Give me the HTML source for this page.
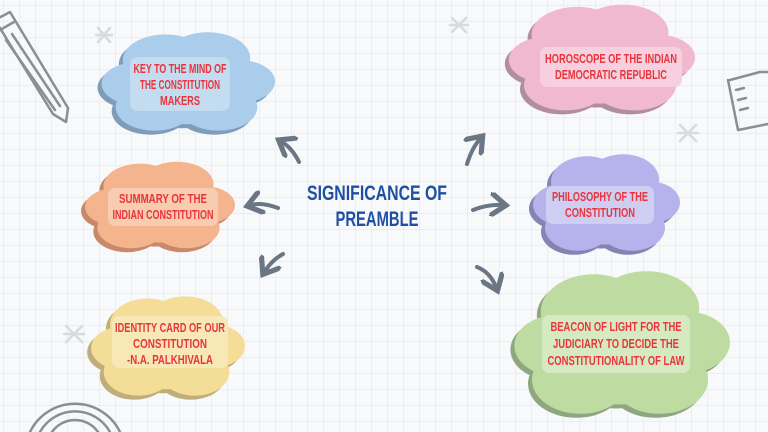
<!DOCTYPE html>
<html><head><meta charset="utf-8"><style>
html,body{margin:0;padding:0}
body{width:768px;height:432px;overflow:hidden;background:#f8f9fb}
svg{display:block}
text{font-family:"Liberation Sans",sans-serif;font-weight:bold;text-anchor:middle}
</style></head><body>
<svg width="768" height="432" viewBox="0 0 768 432" xmlns="http://www.w3.org/2000/svg">
<defs>
<pattern id="grid" width="16" height="16" patternUnits="userSpaceOnUse" x="4" y="6">
<path d="M16 0V16M0 16H16" fill="none" stroke="#e1e4ea" stroke-width="1"/>
</pattern>
<g id="cl">
<ellipse cx="22" cy="52" rx="20" ry="20"/><ellipse cx="38" cy="30" rx="24" ry="24"/>
<ellipse cx="62" cy="28" rx="24" ry="24"/><ellipse cx="80" cy="50" rx="20" ry="20"/>
<ellipse cx="50" cy="60" rx="30" ry="30"/><ellipse cx="32" cy="74" rx="22" ry="22"/>
<ellipse cx="68" cy="74" rx="22" ry="22"/>
</g>
<marker id="ah" markerWidth="6" markerHeight="6" refX="3" refY="3" orient="auto" markerUnits="strokeWidth">
<path d="M0,0 L4,3 L0,6" fill="none" stroke="#6b7685" stroke-width="1.3" stroke-linecap="round"/></marker>
</defs>
<rect width="768" height="432" fill="url(#grid)"/>

<g fill="none" stroke="#8a8f96" stroke-width="2.5" stroke-linecap="round" stroke-linejoin="round">
<path d="M-5 20 L10 12 L68 108 L66 122 L53 114 Z"/>
<path d="M0 30 L14 22 M6 40 L55 110 M12 34 L60 106"/>
<path d="M730 80 L760 72 L768 72 M728 80 L738 130 L768 124 M736 90 L744 88 M738 100 L746 98 M740 110 L748 108"/>
<path d="M30 432 A50 50 0 0 1 120 432 M40 432 A40 40 0 0 1 110 432 M52 432 A28 28 0 0 1 98 432"/>
</g>
<g stroke="#d7dadf" stroke-width="2.5" stroke-linecap="round">
<path d="M98 28 L110 42 M110 28 L98 42 M96 35 L112 35"/>
<path d="M452 18 L466 32 M466 18 L452 32 M450 25 L468 25"/>
<path d="M680 125 L696 141 M696 125 L680 141 M678 133 L698 133"/>
<path d="M66 326 L82 342 M82 326 L66 342 M64 334 L84 334"/>
</g>

<g transform="translate(94,32) scale(1.77,1.07)" fill="#7f9cb8"><use href="#cl"/></g>
<g transform="translate(98,28) scale(1.77,1.07)" fill="#a9cdea"><use href="#cl"/></g>
<g transform="translate(78,162) scale(1.53,0.94)" fill="#c8886a"><use href="#cl"/></g>
<g transform="translate(82,158) scale(1.53,0.94)" fill="#f4b48e"><use href="#cl"/></g>
<g transform="translate(84,296) scale(1.57,1.08)" fill="#bfae79"><use href="#cl"/></g>
<g transform="translate(88,292) scale(1.57,1.08)" fill="#f4dd97"><use href="#cl"/></g>
<g transform="translate(501,4) scale(1.9,1.15)" fill="#b08ea0"><use href="#cl"/></g>
<g transform="translate(505,0) scale(1.9,1.15)" fill="#f1b9cd"><use href="#cl"/></g>
<g transform="translate(526,154) scale(1.5,1.05)" fill="#8583b4"><use href="#cl"/></g>
<g transform="translate(530,150) scale(1.5,1.05)" fill="#b5b2ec"><use href="#cl"/></g>
<g transform="translate(506,269) scale(2.2,1.55)" fill="#8fa781"><use href="#cl"/></g>
<g transform="translate(510,265) scale(2.2,1.55)" fill="#bedca1"><use href="#cl"/></g>

<rect x="130" y="57" width="100" height="54" rx="8" fill="#c3dcef"/>
<rect x="108" y="188" width="110" height="38" rx="7" fill="#f8ccb0"/>
<rect x="112" y="316" width="116" height="52" rx="7" fill="#f8e8b8"/>
<rect x="540" y="47" width="142" height="40" rx="7" fill="#f6d0de"/>
<rect x="546" y="186" width="108" height="38" rx="7" fill="#cecdf2"/>
<rect x="542" y="315" width="148" height="58" rx="7" fill="#d6eac2"/>

<g fill="#e8353d" font-size="12.5" lengthAdjust="spacingAndGlyphs">
<text x="180" y="73" textLength="93" lengthAdjust="spacingAndGlyphs">KEY TO THE MIND OF</text>
<text x="180" y="89" textLength="80" lengthAdjust="spacingAndGlyphs">THE CONSTITUTION</text>
<text x="180" y="105" textLength="40" lengthAdjust="spacingAndGlyphs">MAKERS</text>
<text x="163" y="203" textLength="88" lengthAdjust="spacingAndGlyphs">SUMMARY OF THE</text>
<text x="163" y="219" textLength="101" lengthAdjust="spacingAndGlyphs">INDIAN CONSTITUTION</text>
<text x="170" y="332" textLength="110" lengthAdjust="spacingAndGlyphs">IDENTITY CARD OF OUR</text>
<text x="170" y="348" textLength="74" lengthAdjust="spacingAndGlyphs">CONSTITUTION</text>
<text x="170" y="364" textLength="86" lengthAdjust="spacingAndGlyphs">-N.A. PALKHIVALA</text>
<text x="611" y="63" textLength="132" lengthAdjust="spacingAndGlyphs">HOROSCOPE OF THE INDIAN</text>
<text x="611" y="79" textLength="112" lengthAdjust="spacingAndGlyphs">DEMOCRATIC REPUBLIC</text>
<text x="600" y="201" textLength="96" lengthAdjust="spacingAndGlyphs">PHILOSOPHY OF THE</text>
<text x="600" y="217" textLength="70" lengthAdjust="spacingAndGlyphs">CONSTITUTION</text>
<text x="616" y="331" textLength="131" lengthAdjust="spacingAndGlyphs">BEACON OF LIGHT FOR THE</text>
<text x="616" y="348" textLength="126" lengthAdjust="spacingAndGlyphs">JUDICIARY TO DECIDE THE</text>
<text x="616" y="365" textLength="137" lengthAdjust="spacingAndGlyphs">CONSTITUTIONALITY OF LAW</text>
</g>

<g fill="#1f4fa3" font-size="21">
<text x="377" y="200" textLength="140" lengthAdjust="spacingAndGlyphs">SIGNIFICANCE OF</text>
<text x="377" y="226" textLength="83" lengthAdjust="spacingAndGlyphs">PREAMBLE</text>
</g>

<g fill="none" stroke="#6b7685" stroke-width="4" stroke-linecap="round" marker-end="url(#ah)">
<path d="M299 162 Q292 148 282 142"/>
<path d="M278 208 Q262 202 251 205"/>
<path d="M283 254 Q272 260 265 271"/>
<path d="M467 164 Q472 148 480 139"/>
<path d="M473 210 Q488 204 502 205"/>
<path d="M477 267 Q490 272 496 287"/>
</g>
</svg>
</body></html>
